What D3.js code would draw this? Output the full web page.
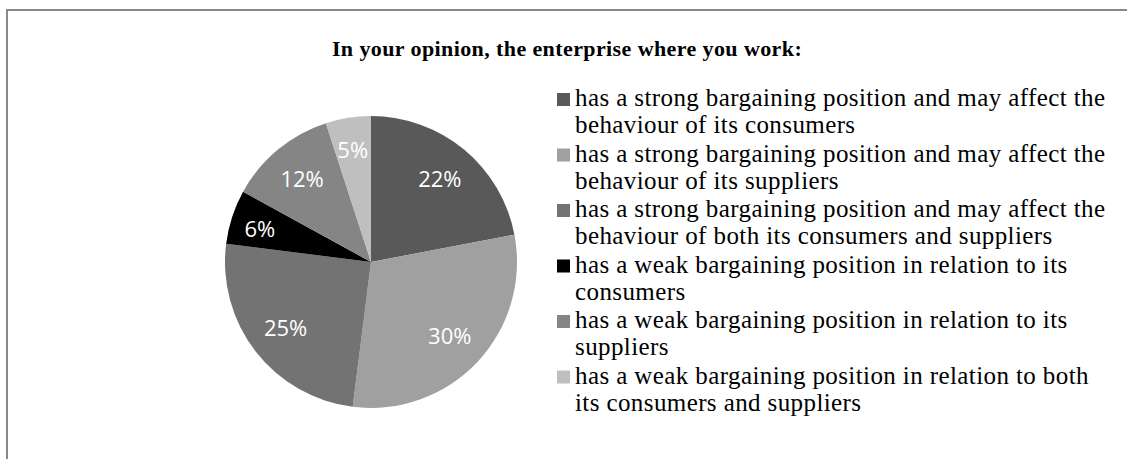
<!DOCTYPE html>
<html lang="en">
<head>
<meta charset="UTF-8">
<title>Bargaining position</title>
<style>
  body { margin: 0; background: #fff; }
  svg { display: block; }
</style>
</head>
<body>
<div id="chart"></div>
<script src="https://cdn.jsdelivr.net/npm/d3@7/dist/d3.min.js"></script>
<script>
// chart data
const title = "In your opinion, the enterprise where you work:";
const categories = [
  "has a strong bargaining position and may affect the\nbehaviour of its consumers",
  "has a strong bargaining position and may affect the\nbehaviour of its suppliers",
  "has a strong bargaining position and may affect the\nbehaviour of both its consumers and suppliers",
  "has a weak bargaining position in relation to its\nconsumers",
  "has a weak bargaining position in relation to its\nsuppliers",
  "has a weak bargaining position in relation to both\nits consumers and suppliers"
];
const shares = [22, 30, 25, 6, 12, 5];
const colours = ["#595959", "#a0a0a0", "#737373", "#000000", "#858585", "#bfbfbf"];

const W = 1127, H = 459;
const svg = d3.select("#chart").append("svg")
    .attr("width", W)
    .attr("height", H);

// frame (only left/top edges fall inside the picture)
svg.append("rect")
    .attr("x", 7).attr("y", 10)
    .attr("width", W + 20).attr("height", H + 20)
    .attr("fill", "#fff")
    .attr("stroke", "#898989")
    .attr("stroke-width", 2);

svg.append("text")
    .attr("x", 567).attr("y", 56)
    .attr("text-anchor", "middle")
    .style("font-family", "'Liberation Serif', 'Times New Roman', serif")
    .style("font-weight", "bold")
    .style("font-size", "22px")
    .style("letter-spacing", "0.4px")
    .text(title);

// pie
const cx = 371, cy = 262, r = 146;
const pie = d3.pie().sort(null).value(d => d);
const arc = d3.arc().innerRadius(0).outerRadius(r);
const arcs = pie(shares);

const g = svg.append("g").attr("transform", `translate(${cx},${cy})`);

g.selectAll("path")
  .data(arcs)
  .join("path")
    .attr("d", arc)
    .attr("fill", (d, i) => colours[i]);

// small slices get their label pushed a bit further out
g.selectAll("text")
  .data(arcs)
  .join("text")
    .attr("transform", d => {
        const lr = d.data < 10 ? r * 0.8 : r * 0.74;
        const c = d3.arc().innerRadius(lr).outerRadius(lr).centroid(d);
        return `translate(${c[0]},${c[1] + (d.data < 10 ? 3 : 0)})`;
    })
    .attr("text-anchor", "middle")
    .attr("dy", "0.36em")
    .attr("fill", "#fff")
    .style("font-family", "'Open Sans', sans-serif")
    .style("font-size", "22px")
    .text(d => d.data + "%");

// legend
const legend = svg.append("g").attr("transform", "translate(557,0)");
const item = legend.selectAll("g")
  .data(categories)
  .join("g")
    .attr("transform", (d, i) => `translate(0,${106 + i * 55.5})`);

item.append("rect")
    .attr("x", 0).attr("y", -13)
    .attr("width", 13).attr("height", 13)
    .attr("fill", (d, i) => colours[i]);

item.append("text")
    .style("font-family", "'Liberation Serif', 'Times New Roman', serif")
    .style("font-size", "25px")
    .style("letter-spacing", "0.4px")
    .attr("fill", "#000")
    .selectAll("tspan")
    .data(d => d.split("\n"))
    .join("tspan")
      .attr("x", 18)
      .attr("y", (d, i) => i * 27)
      .text(d => d);
</script>
</body>
</html>
